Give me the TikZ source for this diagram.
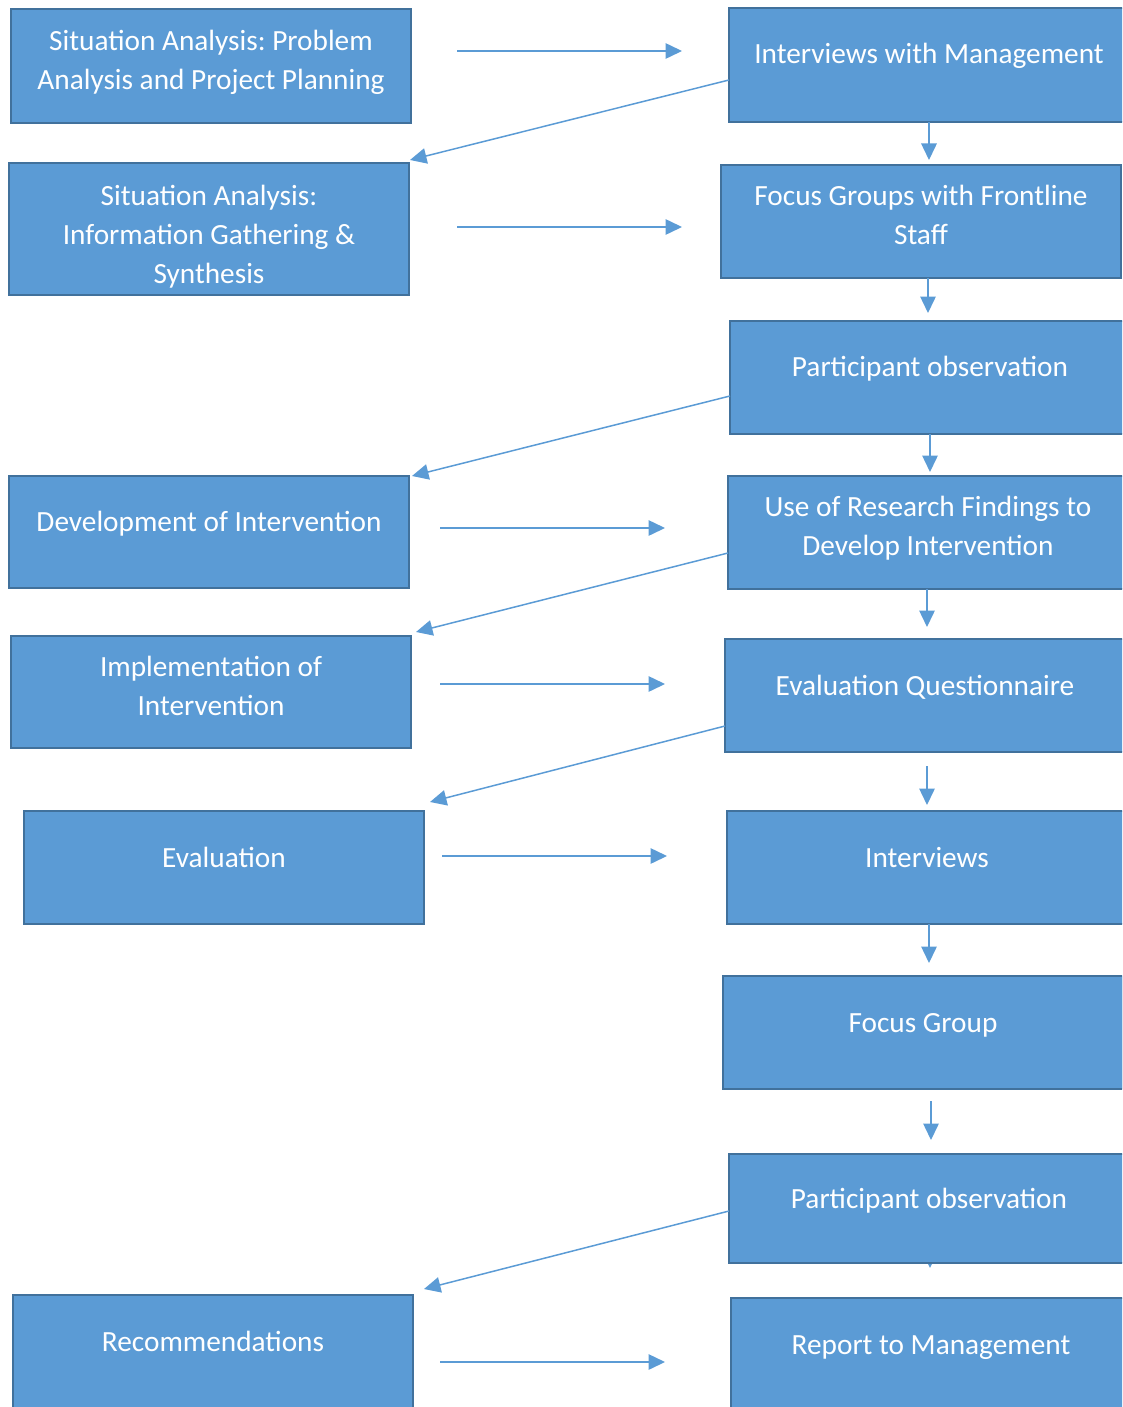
\documentclass[tikz,border=0pt]{standalone}
\usepackage{fontspec}
\setmainfont{Carlito}
\usetikzlibrary{arrows.meta,backgrounds}
\definecolor{boxfill}{HTML}{5B9BD5}
\definecolor{boxline}{HTML}{41719C}
\definecolor{arrowcol}{HTML}{5B9BD5}
\frenchspacing
\begin{document}
\begin{tikzpicture}[x=1pt,y=-1pt,
  box/.style={draw=boxline,line width=2.5pt,fill=boxfill,rectangle,
    anchor=north west,inner sep=0pt,outer sep=0pt,minimum width=400pt},
  % labels are placed by the baseline of their last line
  txt/.style={text=white,anchor=base,align=center,inner sep=0pt,
    font=\fontsize{29.3pt}{39pt}\selectfont},
  arr/.style={draw=arrowcol,line width=1.5pt,
    -{Triangle[length=16.5pt,width=15.5pt]}}]
\clip (0,0) rectangle (1122,1407);

% left column
\node[box,minimum height=114pt] (L1) at (11,9) {};
\node[box,minimum height=132pt] (L2) at (9,163) {};
\node[box,minimum height=112pt] (L3) at (9,476) {};
\node[box,minimum height=112pt] (L4) at (11,636) {};
\node[box,minimum height=113pt] (L5) at (24,811) {};
\node[box,minimum height=125pt] (L6) at (13,1295) {};

% right column
\node[box,minimum height=114pt] (R1) at (729,8) {};
\node[box,minimum height=113pt] (R2) at (721,165) {};
\node[box,minimum height=113pt] (R3) at (730,321) {};
\node[box,minimum height=113pt] (R4) at (728,476) {};
\node[box,minimum height=113pt] (R5) at (725,639) {};
\node[box,minimum height=113pt] (R6) at (727,811) {};
\node[box,minimum height=113pt] (R7) at (723,976) {};
\node[box,minimum height=109pt] (R8) at (729,1154) {};
\node[box,minimum height=125pt] (R9) at (731,1298) {};

% box labels
\node[txt] (tL1) at (211,90) {Situation Analysis: Problem\\Analysis and Project Planning};
\node[txt] (tL2) at (209,283) {Situation Analysis:\\Information Gathering \&\\Synthesis};
\node[txt] (tL3) at (209,531) {Development of Intervention};
\node[txt] (tL4) at (211,715) {Implementation of\\Intervention};
\node[txt] (tL5) at (224,867) {Evaluation};
\node[txt] (tL6) at (213,1351) {Recommendations};
\node[txt] (tR1) at (929,64) {Interviews with Management};
\node[txt] (tR2) at (921,244) {Focus Groups with Frontline\\Staff};
\node[txt] (tR3) at (930,376) {Participant observation};
\node[txt] (tR4) at (928,555) {Use of Research Findings to\\Develop Intervention};
\node[txt] (tR5) at (925,695) {Evaluation Questionnaire};
\node[txt] (tR6) at (927,867) {Interviews};
\node[txt] (tR7) at (923,1032) {Focus Group};
\node[txt] (tR8) at (929,1208) {Participant observation};
\node[txt] (tR9) at (931,1354) {Report to Management};

% free ends of the connectors
\coordinate (h1s) at (457,51);   \coordinate (h1e) at (682,51);
\coordinate (h2s) at (457,227);  \coordinate (h2e) at (682,227);
\coordinate (h3s) at (440,528);  \coordinate (h3e) at (665,528);
\coordinate (h4s) at (440,684);  \coordinate (h4e) at (665,684);
\coordinate (h5s) at (442,856);  \coordinate (h5e) at (667,856);
\coordinate (h6s) at (440,1362); \coordinate (h6e) at (665,1362);
\coordinate (v1e) at (929,160);
\coordinate (v2e) at (928,313);
\coordinate (v3e) at (930,472);
\coordinate (v4e) at (927,627);
\coordinate (v5s) at (927,766);  \coordinate (v5e) at (927,805);
\coordinate (v6e) at (929,963);
\coordinate (v7s) at (931,1101); \coordinate (v7e) at (931,1140);
\coordinate (v8e) at (930,1268);

% horizontal arrows
\draw[arr] (h1s) -- (h1e);
\draw[arr] (h2s) -- (h2e);
\draw[arr] (h3s) -- (h3e);
\draw[arr] (h4s) -- (h4e);
\draw[arr] (h5s) -- (h5e);
\draw[arr] (h6s) -- (h6e);

% vertical arrows down the right column
\draw[arr] (R1.south) -- (v1e);
\draw[arr] ([xshift=7pt]R2.south) -- (v2e);
\draw[arr] (R3.south) -- (v3e);
\draw[arr] ([xshift=-1pt]R4.south) -- (v4e);
\draw[arr] (v5s) -- (v5e);
\draw[arr] ([xshift=2pt]R6.south) -- (v6e);
\draw[arr] (v7s) -- (v7e);
\begin{pgfonlayer}{background}
  \draw[arr] ([xshift=1pt]R8.center) -- (v8e);
\end{pgfonlayer}

% diagonal arrows back to the left column
\draw[arr] ([yshift=-15pt]R1.west) -- ([xshift=1pt,yshift=3pt]L2.north east);
\draw[arr] ([yshift=-18.5pt]R3.west) -- ([xshift=3pt]L3.north east);
\draw[arr] ([yshift=-20.5pt]R4.west) -- ([xshift=5pt,yshift=4pt]L4.north east);
\draw[arr] ([yshift=-30.5pt]R5.west) -- ([xshift=6pt,yshift=9pt]L5.north east);
\draw[arr] ([yshift=-2.5pt]R8.west) -- ([xshift=11pt,yshift=6pt]L6.north east);
\end{tikzpicture}
\end{document}
